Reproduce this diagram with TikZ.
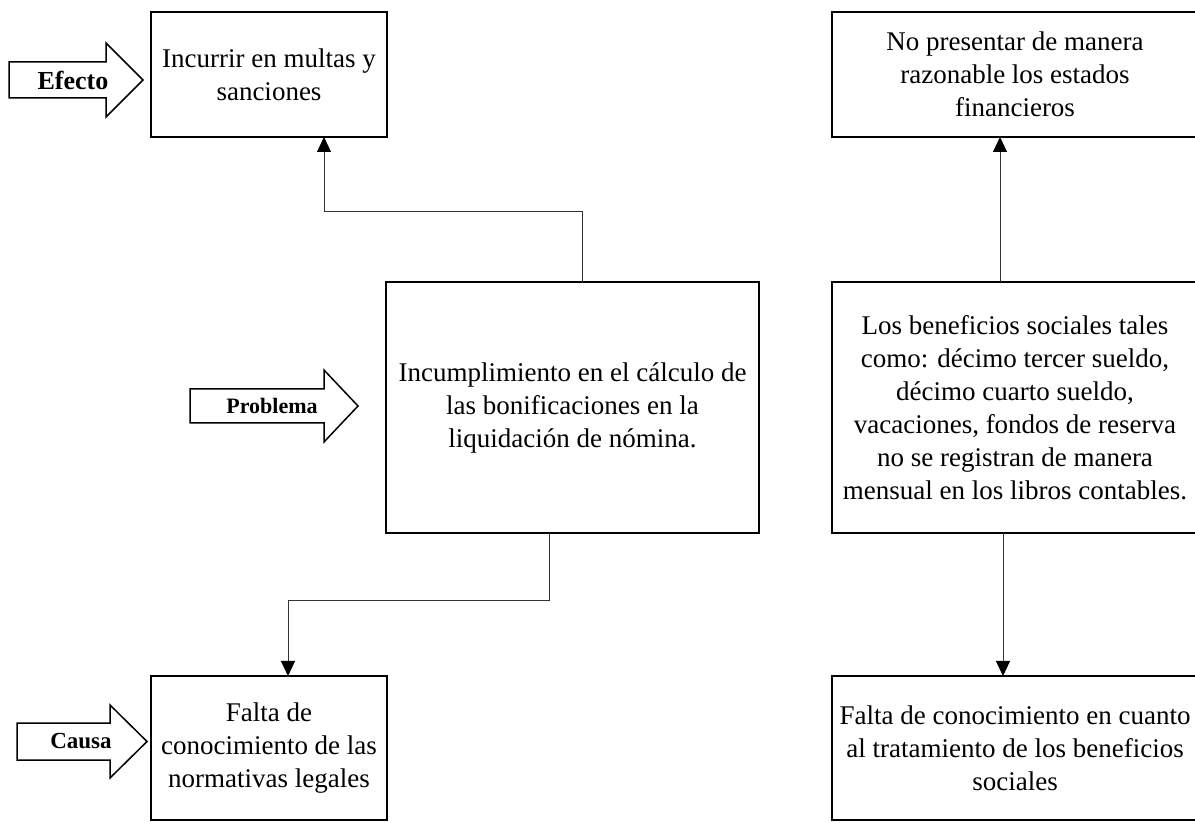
\documentclass[tikz,border=0pt]{standalone}
\usepackage{fontspec}
\setmainfont{Liberation Serif}
\usetikzlibrary{arrows.meta}
\begin{document}
\begin{tikzpicture}[x=0.5pt,y=-0.5pt,
  box/.style={draw=black, line width=0.7pt, rectangle, inner sep=0pt, outer sep=0pt, align=center, font=\fontsize{13.5}{16.5}\selectfont},
  conn/.style={draw=black!80, line width=0.5pt, -{Triangle[width=7pt,length=7.5pt,color=black,fill=black]}},
  blockarrow/.style={draw=black, line width=0.75pt, fill=white, line join=miter},
  lbl/.style={font=\bfseries\fontsize{12}{14}\selectfont, inner sep=0pt}]
\useasboundingbox (0,0) rectangle (1195,823);
\clip (0,0) rectangle (1195,823);

% boxes
\node[box, minimum width=118pt, minimum height=62.5pt] (tl) at (269,74.5) {\rule{0pt}{7pt}Incurrir en multas y\\sanciones};
\node[box, minimum width=183pt, minimum height=62.5pt] (tr) at (1015,74.5) {\rule{0pt}{5pt}No presentar de manera\\razonable los estados\\financieros};
\node[box, minimum width=186.5pt, minimum height=125.5pt] (mid) at (572.5,407.5) {Incumplimiento en el cálculo de\\las bonificaciones en la\\liquidación de nómina.};
\node[box, minimum width=183pt, minimum height=125.5pt] (rm) at (1015,407.5) {Los beneficios sociales tales\\como: décimo tercer sueldo,\\décimo cuarto sueldo,\\vacaciones, fondos de reserva\\no se registran de manera\\mensual en los libros contables.};
\node[box, minimum width=118pt, minimum height=72pt] (bl) at (269,748) {\rule{0pt}{6pt}Falta de\\conocimiento de las\\normativas legales};
\node[box, minimum width=183pt, minimum height=72pt] (br) at (1015,748) {\rule{0pt}{6pt}Falta de conocimiento en cuanto\\al tratamiento de los beneficios\\sociales};

% block arrows
\draw[blockarrow] (9,62) -- (106,62) -- (106,43) -- (143,80) -- (106,117) -- (106,98) -- (9,98) -- cycle;
\node[lbl, font=\bfseries\fontsize{13}{15}\selectfont] (efecto) at (73,80) {Efecto};
\draw[blockarrow] (190,389) -- (324,389) -- (324,370) -- (358,406) -- (324,442) -- (324,423) -- (190,423) -- cycle;
\node[lbl, font=\bfseries\fontsize{11}{13}\selectfont] (problema) at (272,406) {Problema};
\draw[blockarrow] (17,723) -- (110,723) -- (110,705) -- (147,741.5) -- (110,778) -- (110,760) -- (17,760) -- cycle;
\node[lbl, font=\bfseries\fontsize{11.5}{13}\selectfont] (causa) at (81,741.5) {Causa};

% connectors
\coordinate (k1) at (582,212);
\coordinate (k2) at (324,212);
\draw[conn] (mid.north -| k1) -- (k1) -- (k2) -- (tl.south -| k2);
\coordinate (k3) at (549,601);
\coordinate (k4) at (288,601);
\draw[conn] (mid.south -| k3) -- (k3) -- (k4) -- (bl.north -| k4);
\coordinate (k5) at (1000,0);
\draw[conn] (rm.north -| k5) -- (tr.south -| k5);
\coordinate (k6) at (1003,0);
\draw[conn] (rm.south -| k6) -- (br.north -| k6);
\end{tikzpicture}
\end{document}
